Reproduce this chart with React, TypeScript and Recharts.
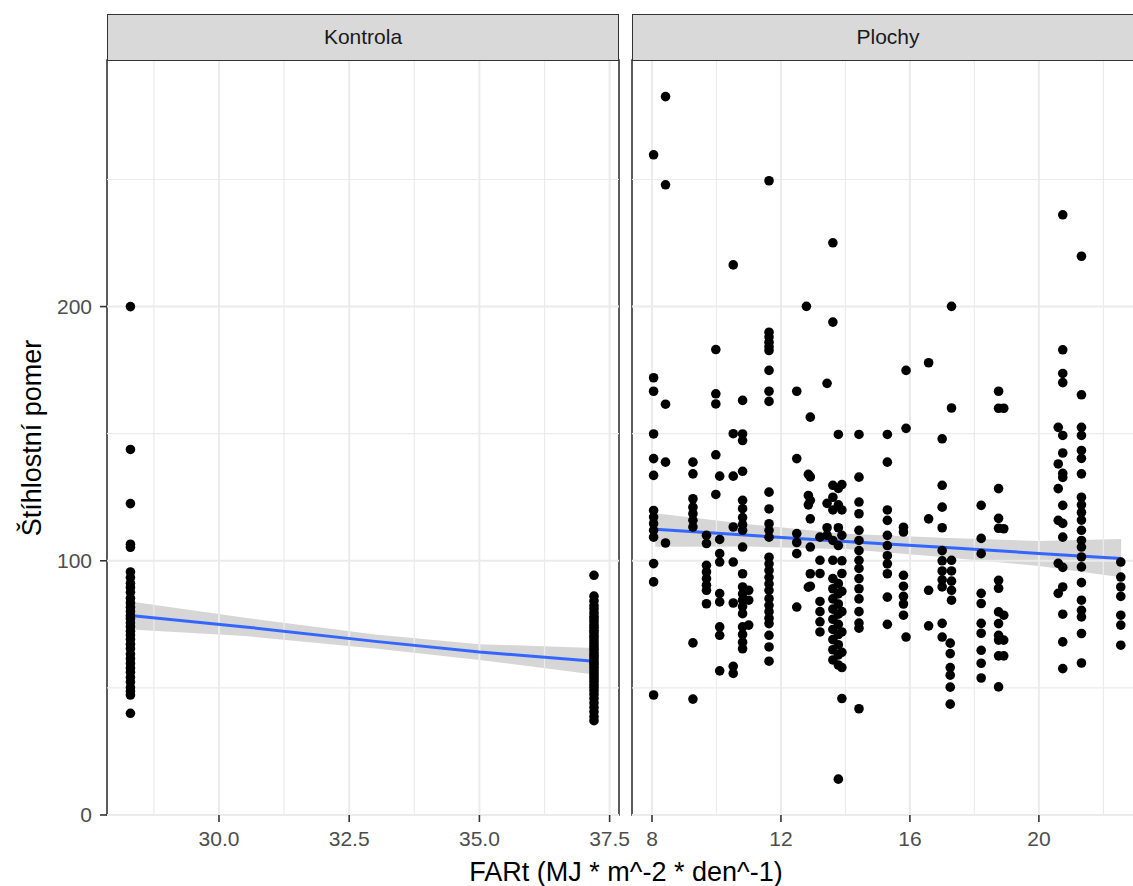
import React from 'react';
import {
  ComposedChart,
  Scatter,
  Line,
  Area,
  XAxis,
  YAxis,
  ReferenceLine,
  ReferenceArea,
} from 'recharts';

const FONT = '"Liberation Sans", Arial, Helvetica, sans-serif';

// ---------------- Kontrola panel data ----------------
const kontrolaX = [28.3, 37.2];
const kontrolaYAtLow = [
  200, 143.8, 122.5, 106.5, 105.3, 95.6, 93.4, 91.2, 89.5, 87.6, 85.3, 83.4, 81.7, 80.1, 78.4,
  77.2, 75.6, 74.1, 72.3, 70.8, 69.1, 67.2, 65.4, 63.3, 61.5, 59.6, 57.8, 56.2, 54.1, 52.3,
  50.2, 48.6, 47.2, 40.0,
];
const kontrolaYAtHigh = [
  94.3, 86.1, 84.2, 82.4, 81.1, 79.6, 78.2, 77.1, 76.0, 74.8, 73.9, 72.7, 71.8, 70.6, 69.7,
  68.5, 67.4, 66.3, 65.2, 64.1, 63.0, 62.2, 61.1, 60.0, 59.2, 58.1, 57.0, 55.9, 54.8, 53.7,
  52.6, 51.3, 50.2, 48.9, 47.4, 45.8, 44.1, 42.3, 40.6, 38.7, 37.1,
];
const kontrolaFitX = [28.3, 30.5, 33.0, 35.0, 37.2];
const kontrolaFitY = [78.5, 74.0, 68.3, 64.1, 60.5];
const kontrolaBandLow = [73.0, 70.4, 65.5, 61.0, 55.3];
const kontrolaBandHigh = [84.0, 77.6, 71.0, 67.2, 65.7];

// ---------------- Plochy panel data ----------------
const plochyX = [
  8.05, 8.42, 9.27, 9.69, 9.98, 10.1, 10.52, 10.81, 11.0, 11.63, 12.49, 12.79, 12.85, 12.91,
  13.21, 13.43, 13.61, 13.78, 13.89, 14.42, 15.3, 15.8, 15.88, 16.58, 17.0, 17.29, 17.25,
  18.21, 18.75, 18.91, 20.6, 20.74, 21.32, 22.54,
];
const plochyY = [
  [259.7, 172.0, 166.7, 149.9, 140.2, 133.6, 119.8, 117.2, 114.6, 112.0, 109.3, 98.9, 91.7, 47.2],
  [282.6, 247.9, 161.6, 138.8, 107.0],
  [138.8, 134.2, 124.4, 121.1, 118.5, 115.9, 113.3, 67.7, 45.6],
  [110.0, 106.8, 98.2, 95.6, 93.0, 90.4, 88.4, 83.1],
  [183.1, 165.7, 161.7, 141.7, 126.1],
  [133.3, 108.4, 102.8, 99.5, 87.1, 83.8, 74.0, 70.7, 56.7],
  [216.4, 150.0, 133.3, 113.3, 99.5, 83.4, 58.5, 55.7],
  [163.1, 149.9, 147.3, 135.2, 123.8, 120.5, 117.0, 114.2, 112.0, 105.4, 94.9, 89.7, 87.0, 84.5, 82.0, 79.2, 74.0, 71.0, 68.0, 65.4],
  [88.4, 84.5, 74.7],
  [249.5, 189.9, 188.0, 186.0, 184.2, 182.7, 174.9, 166.7, 162.7, 127.0, 120.4, 114.6, 112.0, 109.3, 101.4, 98.8, 96.2, 93.5, 90.9, 88.4, 85.1, 82.5, 80.0, 77.4, 75.3, 70.7, 66.1, 60.5],
  [166.7, 140.2, 110.7, 107.2, 102.8, 81.8],
  [200.1],
  [134.0, 125.7, 122.0, 89.6],
  [156.5, 133.0, 123.8, 116.5, 105.4, 94.9, 90.0],
  [109.3, 100.2, 95.0, 84.0, 80.0, 76.0, 72.0],
  [169.8, 122.6, 113.0, 110.0],
  [225.1, 193.9, 129.7, 125.0, 120.0, 108.0, 100.2, 93.0, 89.0, 85.0, 81.0, 77.0, 73.0, 69.0, 65.0, 61.0],
  [149.7, 128.5, 122.0, 113.0, 106.0, 91.0, 87.0, 83.0, 79.0, 75.0, 71.0, 67.0, 63.0, 59.0, 14.1],
  [130.0, 120.0, 110.0, 100.0, 95.0, 88.0, 80.0, 72.0, 64.0, 58.0, 45.8],
  [149.7, 132.9, 123.1, 118.5, 112.0, 108.0, 104.0, 100.2, 97.0, 93.0, 89.0, 85.0, 80.0, 75.5, 73.5, 41.8],
  [149.7, 138.8, 120.0, 115.9, 110.0, 106.0, 102.0, 98.8, 94.9, 85.7, 75.0],
  [113.2, 111.3, 94.3, 90.0, 86.0, 83.0, 78.6],
  [174.9, 152.1, 70.0],
  [177.9, 116.5, 88.4, 74.4],
  [148.0, 129.7, 121.1, 113.0, 104.0, 100.0, 96.0, 92.5, 89.7, 75.4, 70.0],
  [200.1, 160.1, 100.2, 96.0, 92.0, 88.4, 84.5],
  [67.6, 63.5, 58.0, 55.0, 50.3, 43.6],
  [121.8, 108.8, 102.8, 87.2, 83.2, 75.4, 71.5, 64.8, 59.7, 53.9],
  [166.7, 160.0, 128.4, 116.7, 112.8, 92.3, 89.2, 79.9, 75.3, 70.7, 68.8, 62.6, 50.4],
  [160.0, 112.6, 78.6, 68.8, 62.6],
  [152.5, 138.1, 128.4, 115.9, 99.0, 87.2],
  [236.1, 183.0, 173.7, 170.1, 149.3, 142.4, 134.4, 132.8, 121.8, 114.7, 109.3, 97.4, 89.7, 79.0, 68.1, 57.6],
  [219.8, 165.3, 152.5, 149.3, 143.4, 140.3, 134.2, 125.0, 122.0, 119.0, 116.0, 112.0, 108.0, 105.4, 101.5, 97.6, 91.4, 84.5, 80.5, 77.9, 71.4, 59.8],
  [99.5, 93.6, 89.7, 86.0, 78.6, 74.7, 66.8],
];
const plochyFitX = [8.1, 11.0, 14.0, 17.0, 20.0, 22.55];
const plochyFitY = [112.4, 110.0, 107.6, 105.3, 102.9, 100.9];
const plochyBandLow = [105.5, 105.6, 104.6, 101.5, 98.0, 93.5];
const plochyBandHigh = [118.7, 114.4, 110.6, 109.1, 107.8, 108.6];

// ---------------- Axes ----------------
const yDomain = [0, 297];
const yMajor = [0, 100, 200];
const yMinor = [50, 150, 250];
const kontrolaDomain = [27.85, 37.68];
const kontrolaMajor = [30, 32.5, 35, 37.5];
const kontrolaMinor = [28.75, 31.25, 33.75, 36.25];
const plochyDomain = [7.38, 23.26];
const plochyMajor = [8, 12, 16, 20];
const plochyMinor = [10, 14, 18, 22];

const kontrolaPoints = [
  ...kontrolaYAtLow.map((y) => ({ x: kontrolaX[0], y })),
  ...kontrolaYAtHigh.map((y) => ({ x: kontrolaX[1], y })),
];
const plochyPoints = plochyX.flatMap((x, i) => plochyY[i].map((y) => ({ x, y })));

const kontrolaFit = kontrolaFitX.map((x, i) => ({
  x,
  fit: kontrolaFitY[i],
  band: [kontrolaBandLow[i], kontrolaBandHigh[i]],
}));
const plochyFit = plochyFitX.map((x, i) => ({
  x,
  fit: plochyFitY[i],
  band: [plochyBandLow[i], plochyBandHigh[i]],
}));

const Dot = (props: any) => <circle cx={props.cx} cy={props.cy} r={4.8} fill="#000000" />;

type PanelProps = {
  left: number;
  width: number;
  marginLeft: number;
  marginRight: number;
  showY: boolean;
  domain: number[];
  major: number[];
  minor: number[];
  fmt: (v: number) => string;
  points: { x: number; y: number }[];
  fit: any[];
};

function Panel(p: PanelProps) {
  const tickStyle = { fill: '#4D4D4D', fontSize: 21, fontFamily: FONT };
  return (
    <div style={{ position: 'absolute', left: p.left, top: 0 }}>
      <ComposedChart
        width={p.width}
        height={886}
        data={p.fit}
        margin={{ top: 60, right: p.marginRight, bottom: 0, left: p.marginLeft }}
      >
        <XAxis
          type="number"
          dataKey="x"
          domain={p.domain}
          allowDataOverflow
          ticks={p.major}
          interval={0}
          tickFormatter={p.fmt}
          height={71}
          tickSize={7}
          tickMargin={9}
          axisLine={false}
          tickLine={{ stroke: '#333333', strokeWidth: 1.6 }}
          tick={tickStyle}
        />
        <YAxis
          type="number"
          domain={yDomain}
          allowDataOverflow
          ticks={yMajor}
          interval={0}
          hide={!p.showY}
          width={107}
          tickSize={7}
          tickMargin={8}
          axisLine={false}
          tickLine={{ stroke: '#333333', strokeWidth: 1.6 }}
          tick={tickStyle}
        />
        {p.minor.map((v) => (
          <ReferenceLine key={'mx' + v} x={v} stroke="#EBEBEB" strokeWidth={1.2} />
        ))}
        {yMinor.map((v) => (
          <ReferenceLine key={'my' + v} y={v} stroke="#EBEBEB" strokeWidth={1.2} />
        ))}
        {p.major.map((v) => (
          <ReferenceLine key={'Mx' + v} x={v} stroke="#EBEBEB" strokeWidth={2} />
        ))}
        {yMajor.map((v) => (
          <ReferenceLine key={'My' + v} y={v} stroke="#EBEBEB" strokeWidth={2} />
        ))}
        <Scatter data={p.points} dataKey="y" shape={Dot} isAnimationActive={false} />
        <Area
          dataKey="band"
          type="linear"
          stroke="none"
          fill="#999999"
          fillOpacity={0.4}
          isAnimationActive={false}
          activeDot={false}
        />
        <Line
          dataKey="fit"
          type="linear"
          stroke="#3366FF"
          strokeWidth={3}
          dot={false}
          activeDot={false}
          isAnimationActive={false}
        />
        <ReferenceArea
          x1={p.domain[0]}
          x2={p.domain[1]}
          y1={yDomain[0]}
          y2={yDomain[1]}
          fill="none"
          fillOpacity={0}
          stroke="#333333"
          strokeWidth={1.6}
          ifOverflow="visible"
        />
      </ComposedChart>
    </div>
  );
}

const stripStyle = (left: number): React.CSSProperties => ({
  position: 'absolute',
  left,
  top: 14,
  width: 512,
  height: 46.8,
  boxSizing: 'border-box',
  background: '#D9D9D9',
  border: '1.6px solid #333333',
  display: 'flex',
  alignItems: 'center',
  justifyContent: 'center',
  fontSize: 21,
  color: '#1A1A1A',
  fontFamily: FONT,
});

export default function App() {
  return (
    <div
      style={{
        position: 'absolute',
        left: 0,
        top: 0,
        width: 1133,
        height: 886,
        overflow: 'hidden',
        background: '#FFFFFF',
        fontFamily: FONT,
      }}
    >
      <Panel
        left={0}
        width={650}
        marginLeft={0}
        marginRight={31}
        showY={true}
        domain={kontrolaDomain}
        major={kontrolaMajor}
        minor={kontrolaMinor}
        fmt={(v) => v.toFixed(1)}
        points={kontrolaPoints}
        fit={kontrolaFit}
      />
      <Panel
        left={624}
        width={530}
        marginLeft={8}
        marginRight={10}
        showY={false}
        domain={plochyDomain}
        major={plochyMajor}
        minor={plochyMinor}
        fmt={(v) => String(v)}
        points={plochyPoints}
        fit={plochyFit}
      />
      <div style={stripStyle(107)}>Kontrola</div>
      <div style={stripStyle(632)}>Plochy</div>
      <div
        style={{
          position: 'absolute',
          left: 126,
          width: 1000,
          top: 856,
          textAlign: 'center',
          fontSize: 27,
          lineHeight: '32px',
          color: '#000000',
          whiteSpace: 'nowrap',
        }}
      >
        FARt (MJ * m^-2 * den^-1)
      </div>
      <div
        style={{
          position: 'absolute',
          left: 32,
          top: 437.5,
          transform: 'translate(-50%, -50%) rotate(-90deg)',
          fontSize: 27,
          lineHeight: '32px',
          color: '#000000',
          whiteSpace: 'nowrap',
        }}
      >
        Štíhlostní pomer
      </div>
    </div>
  );
}
